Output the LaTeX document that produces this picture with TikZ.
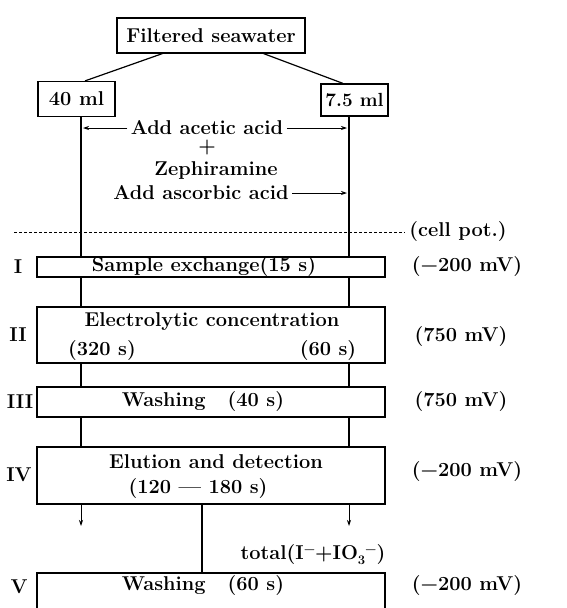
\documentclass[tikz,border=0pt]{standalone}
\usepackage{fontspec}
\usetikzlibrary{arrows.meta}
\newcommand{\supm}{\raisebox{0.75ex}{\fontsize{13}{13}\selectfont −}}
\begin{document}
\begin{tikzpicture}[x=1pt,y=-1pt,
  font=\bfseries\fontsize{20}{22}\selectfont,
  line width=1.2pt,
  frame/.style={draw, inner sep=0pt},
  small/.style={font=\bfseries\fontsize{19}{21}\selectfont},
  stage/.style={draw, inner sep=0pt, minimum width=348pt},
  lbl/.style={inner sep=0pt},
  tip/.style={-{Stealth[length=6pt,width=4pt]}},
  celldash/.style={line width=0.8pt, dash pattern=on 3pt off 2pt}]
\useasboundingbox (0,0) rectangle (567,608);
\coordinate (xl) at (81,0);
\coordinate (xr) at (349,0);
\coordinate (xm) at (202,0);
% top boxes
\node[frame, minimum width=188pt, minimum height=35pt] (fs) at (211,35.5) {Filtered seawater};
\node[frame, minimum width=77pt, minimum height=35pt] (ml40) at (76.5,99) {40 ml};
\node[frame, small, minimum width=67pt, minimum height=32pt] (ml75) at (354.5,100) {7.5 ml};
\draw ([xshift=46pt]fs.south west) -- ([xshift=8.5pt]ml40.north);
\draw ([xshift=-42pt]fs.south east) -- ([xshift=-11.5pt]ml75.north);
% reagents
\node[lbl] (acetic) at (207,128) {Add acetic acid};
\node[lbl] (plus) at (207,148) {+};
\node[lbl] (zeph) at (216,170) {Zephiramine};
\node[lbl] (ascorbic) at (201,193) {Add ascorbic acid};
\draw[tip, line width=0.8pt] ([xshift=-3pt]acetic.west) -- ([xshift=2pt]acetic.west -| xl);
\draw[tip, line width=0.8pt] ([xshift=3pt]acetic.east) -- ([xshift=-2pt]acetic.east -| xr);
\draw[tip, line width=0.8pt] ([xshift=3pt]ascorbic.east) -- ([xshift=-2pt]ascorbic.east -| xr);
% cell potential
\coordinate (dstart) at (14,232);
\node[lbl] (cell) at (458,232) {(cell pot.)};
\draw[celldash] (dstart) -- ([xshift=-4pt]cell.west);
% stages
\node[stage, minimum height=20pt] (s1) at (211,267) {};
\node[stage, minimum height=56pt] (s2) at (211,335) {};
\node[stage, minimum height=30pt] (s3) at (211,402) {};
\node[stage, minimum height=57pt] (s4) at (211,475.5) {};
\node[stage, minimum height=40pt] (s5) at (211,593) {};
% stage texts
\node[lbl] (t1) at (204,267) {Sample exchange(15 s)};
\node[lbl] (t2a) at (212,322) {Electrolytic concentration};
\node[lbl] (t2b) at (102,351) {(320 s)};
\node[lbl] (t2c) at (328,351) {(60 s)};
\node[lbl] (t3) at (203,402) {Washing\hspace{1.1em}(40 s)};
\node[lbl] (t4a) at (216,462) {Elution and detection};
\node[lbl] (t4b) at (198,489) {(120 — 180 s)};
\node[lbl] (t5) at (203,586) {Washing\hspace{1.1em}(60 s)};
% roman numerals
\node[lbl] (r1) at (18,267) {I};
\node[lbl] (r2) at (18,335) {II};
\node[lbl] (r3) at (20,402) {III};
\node[lbl] (r4) at (19,475) {IV};
\node[lbl] (r5) at (19,587) {V};
% potentials
\node[lbl] (p1) at (467,267) {(−200 mV)};
\node[lbl] (p2) at (461,337) {(750 mV)};
\node[lbl] (p3) at (461,402) {(750 mV)};
\node[lbl] (p4) at (467,472) {(−200 mV)};
\node[lbl] (p5) at (467,586) {(−200 mV)};
% total
\node[lbl] (tot) at (313,555) {total(I\supm+IO\raisebox{-0.5ex}{\fontsize{13}{13}\selectfont 3}\supm)};
% flow lines
\draw (ml40.south -| xl) -- (s1.north -| xl);
\draw (ml75.south -| xr) -- (s1.north -| xr);
\draw (s1.south -| xl) -- (s2.north -| xl);
\draw (s1.south -| xr) -- (s2.north -| xr);
\draw (s2.south -| xl) -- (s3.north -| xl);
\draw (s2.south -| xr) -- (s3.north -| xr);
\draw (s3.south -| xl) -- (s4.north -| xl);
\draw (s3.south -| xr) -- (s4.north -| xr);
\coordinate (el) at (81,526);
\coordinate (er) at (349,526);
\draw[tip, line width=0.8pt] (s4.south -| xl) -- (el);
\draw[tip, line width=0.8pt] (s4.south -| xr) -- (er);
\draw (s4.south -| xm) -- (s5.north -| xm);
\end{tikzpicture}
\end{document}
